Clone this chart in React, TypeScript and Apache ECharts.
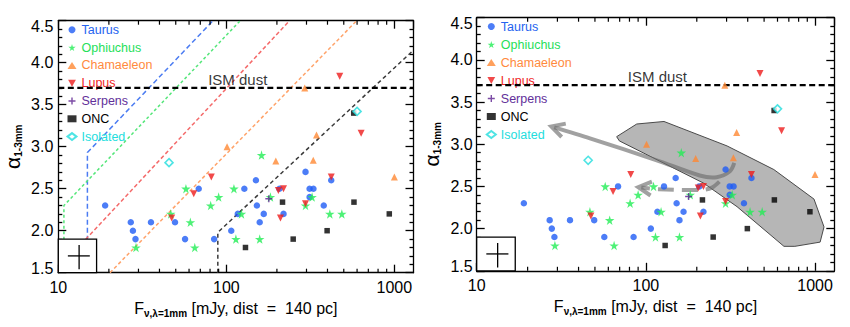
import React, { useEffect, useRef } from "react";
import * as echarts from "echarts";

// ---------------- data ----------------
const taurusFlux = [19, 27, 27.8, 28.8, 35.6, 49.5, 56.8, 68.5, 84.6, 107, 117, 128, 150, 152, 158, 167, 207, 219, 296, 313, 330, 313, 380, 421];
const taurusAlpha = [2.3, 2.1, 2.0, 1.9, 2.1, 2.1, 1.9, 2.5, 1.9, 2.0, 2.2, 2.5, 2.6, 2.3, 2.1, 2.2, 2.5, 2.2, 2.7, 2.5, 2.5, 2.4, 2.3, 2.6];

const ophFlux = [29, 46.7, 57.5, 61.1, 64.9, 80.7, 90, 111, 114, 123, 158, 162, 183, 296, 324, 413, 487];
const ophAlpha = [1.8, 2.2, 2.5, 2.1, 1.8, 2.3, 2.4, 2.5, 1.9, 2.2, 1.9, 2.9, 2.4, 2.3, 2.4, 2.2, 2.2];

const chaFlux = [101, 197, 293, 329, 344, 1000];
const chaAlpha = [3.0, 2.83, 3.7, 2.84, 3.14, 2.64];

const lupFlux = [47.3, 64, 81.4, 204, 219, 210, 296, 421, 473, 634];
const lupAlpha = [2.15, 2.44, 2.64, 2.48, 2.5, 2.15, 2.32, 2.64, 3.84, 3.16];

const serFlux = [179];
const serAlpha = [2.38];

const oncFlux = [130, 216, 250, 398, 573, 575, 933];
const oncAlpha = [1.8, 2.34, 1.9, 2.0, 3.4, 2.34, 2.2];

const isoFlux = [45.6, 600];
const isoAlpha = [2.81, 3.42];

// axis ranges and ticks
const X_MIN = 10;
const X_MAX = 1300;
const Y_MIN = 1.5;
const Y_MAX = 4.5;
const Y_INTERVAL = 0.5;
const xMinorTicks = [20, 30, 40, 50, 60, 70, 80, 90, 200, 300, 400, 500, 600, 700, 800, 900];

// ISM dust level
const ismAlpha = 3.7;
const ismLabelFlux = 117;
const ismLabelAlpha = 3.8;

// left panel model lines
const blueLineFlux = [14.9, 14.9, 83.3];
const blueLineAlpha = [1.5, 2.93, 4.5];
const greenLineFlux = [10.8, 10.8, 121];
const greenLineAlpha = [1.5, 2.3, 4.5];
const redLineFlux = [9.5, 238];
const redLineAlpha = [1.5, 4.5];
const orangeLineFlux = [20.3, 597];
const orangeLineAlpha = [1.5, 4.5];
const blackLineFlux = [89, 89, 1300];
const blackLineAlpha = [1.5, 1.98, 4.15];

// error-bar box
const boxFlux = [10, 16.9];
const boxAlpha = [1.5, 1.9];
const crossFlux = [11.4, 13.3, 15.4];
const crossAlpha = [1.54, 1.7, 1.83];

// right panel region and arrows
const polyFlux = [67.2, 88.3, 128, 302, 571, 986, 1130, 1072, 760, 655, 346, 219, 69.7];
const polyAlpha = [3.09, 3.24, 3.27, 2.98, 2.7, 2.35, 2.02, 1.84, 1.79, 1.79, 2.26, 2.54, 3.04];
const arrow1Flux = [333, 314, 262, 208, 116, 46.7, 27.6];
const arrow1Alpha = [2.78, 2.68, 2.61, 2.63, 2.81, 3.07, 3.21];
const arrow2Flux = [272, 246, 214, 119, 90.2];
const arrow2Alpha = [2.557, 2.486, 2.458, 2.466, 2.49];

// ---------------- styling ----------------
const FONT = "'Liberation Sans', Arial, Helvetica, sans-serif";
const AXIS_COLOR = "#000";
const ARROW_COLOR = "rgba(110,110,110,0.65)";

const STAR = "path://M50,0 L61,35 L98,35 L68,57 L79,91 L50,70 L21,91 L32,57 L2,35 L39,35 Z";
const DOWN_TRI = "path://M0,0 L10,0 L5,9 Z";
const PLUS = "path://M4,0 L6,0 L6,4 L10,4 L10,6 L6,6 L6,10 L4,10 L4,6 L0,6 L0,4 L4,4 Z";

const zip = (a: number[], b: number[]) => a.map((v, i) => [v, b[i]]);

const groups = [
  { name: "Taurus", flux: taurusFlux, alpha: taurusAlpha, symbol: "circle", size: 6.5, color: "#1f5cf5", text: "#2463f0" },
  { name: "Ophiuchus", flux: ophFlux, alpha: ophAlpha, symbol: STAR, size: 9.5, color: "#22ee55", text: "#25e05a" },
  { name: "Chamaeleon", flux: chaFlux, alpha: chaAlpha, symbol: "triangle", size: 7, color: "#ff8833", text: "#ff8a3d" },
  { name: "Lupus", flux: lupFlux, alpha: lupAlpha, symbol: DOWN_TRI, size: 7, color: "#ee1c1c", text: "#f02525" },
  { name: "Serpens", flux: serFlux, alpha: serAlpha, symbol: PLUS, size: 7, color: "#5b1f8f", text: "#62309a" },
  { name: "ONC", flux: oncFlux, alpha: oncAlpha, symbol: "rect", size: 5.5, color: "#000000", text: "#000000" },
  { name: "Isolated", flux: isoFlux, alpha: isoAlpha, symbol: "diamond", size: 8, color: "#22dddd", text: "#22dddd", hollow: true },
];

const grids = [
  { left: 58.3, top: 20.7, width: 355.2, height: 252 },
  { left: 476.7, top: 17.7, width: 357.6, height: 253.1 },
];

const lineStyle = { color: AXIS_COLOR, width: 1.3 };

function bottomX(gi: number) {
  return {
    type: "log",
    logBase: 10,
    gridIndex: gi,
    min: X_MIN,
    max: X_MAX,
    position: "bottom",
    axisLine: { show: true, lineStyle },
    axisTick: { show: true, inside: true, length: 8, lineStyle },
    minorTick: { show: false },
    splitLine: { show: false },
    axisLabel: {
      formatter: (v: number) => String(Math.round(v)),
      fontFamily: FONT,
      fontSize: 16,
      color: "#000",
      margin: 7,
      showMaxLabel: false,
    },
    name: "{a|F}{s|ν,λ=1mm}{a| [mJy, dist  =  140 pc]}",
    nameLocation: "middle",
    nameGap: 24,
    nameTextStyle: {
      rich: {
        a: { fontSize: 16, fontFamily: FONT, color: "#000", lineHeight: 20 },
        s: { fontSize: 10, fontFamily: FONT, fontWeight: "bold", color: "#000", lineHeight: 10, verticalAlign: "bottom" },
      },
    },
  };
}

function topX(gi: number) {
  return {
    type: "log",
    logBase: 10,
    gridIndex: gi,
    min: X_MIN,
    max: X_MAX,
    position: "top",
    axisLine: { show: true, lineStyle },
    axisTick: { show: true, inside: true, length: 8, lineStyle },
    axisLabel: { show: false },
    splitLine: { show: false },
  };
}

function leftY(gi: number, margin: number, gap: number) {
  const base = { fontSize: 16, fontFamily: FONT, color: "#000" };
  return {
    type: "value",
    gridIndex: gi,
    min: Y_MIN,
    max: Y_MAX,
    interval: Y_INTERVAL,
    position: "left",
    axisLine: { show: true, lineStyle },
    axisTick: { show: true, inside: true, length: 8, lineStyle },
    minorTick: { show: true, splitNumber: 5, length: 4, lineStyle },
    splitLine: { show: false },
    axisLabel: {
      margin,
      formatter: (v: number) =>
        Math.abs(v - Y_MAX) < 1e-6 ? `{t|${v.toFixed(1)}}` : Math.abs(v - Y_MIN) < 1e-6 ? `{b|${v.toFixed(1)}}` : `{n|${v.toFixed(1)}}`,
      rich: {
        n: base,
        t: { ...base, padding: [12, 0, 0, 0] },
        b: { ...base, padding: [0, 0, 9, 0] },
      },
    },
    name: "{a|α}{s|1-3mm}",
    nameLocation: "middle",
    nameRotate: 90,
    nameGap: gap,
    nameTextStyle: {
      rich: {
        a: { fontSize: 21, fontFamily: FONT, color: "#000", lineHeight: 22 },
        s: { fontSize: 10, fontFamily: FONT, fontWeight: "bold", color: "#000", lineHeight: 11, verticalAlign: "bottom" },
      },
    },
  };
}

function rightY(gi: number) {
  return {
    type: "value",
    gridIndex: gi,
    min: Y_MIN,
    max: Y_MAX,
    interval: Y_INTERVAL,
    position: "right",
    axisLine: { show: true, lineStyle },
    axisTick: { show: true, inside: true, length: 8, lineStyle },
    minorTick: { show: true, splitNumber: 5, length: 4, lineStyle },
    splitLine: { show: false },
    axisLabel: { show: false },
  };
}

function minorTickSeries(p: number) {
  return {
    type: "custom",
    name: "xminor" + p,
    xAxisIndex: p * 2,
    yAxisIndex: p * 2,
    silent: true,
    z: 6,
    data: xMinorTicks.map((v) => [v, 2]),
    renderItem: (params: any, api: any) => {
      const x = api.coord([api.value(0), api.value(1)])[0];
      const cs = params.coordSys;
      const st = { stroke: AXIS_COLOR, lineWidth: 1.2 };
      return {
        type: "group",
        children: [
          { type: "line", shape: { x1: x, y1: cs.y + cs.height, x2: x, y2: cs.y + cs.height - 4 }, style: st },
          { type: "line", shape: { x1: x, y1: cs.y, x2: x, y2: cs.y + 4 }, style: st },
        ],
      };
    },
  };
}

function boxSeries(p: number) {
  return {
    type: "custom",
    name: "errbox" + p,
    xAxisIndex: p * 2,
    yAxisIndex: p * 2,
    silent: true,
    z: 5,
    data: [[crossFlux[1], crossAlpha[1]]],
    renderItem: (params: any, api: any) => {
      const tl = api.coord([boxFlux[0], boxAlpha[1]]);
      const br = api.coord([boxFlux[1], boxAlpha[0]]);
      const h1 = api.coord([crossFlux[0], crossAlpha[1]]);
      const h2 = api.coord([crossFlux[2], crossAlpha[1]]);
      const v1 = api.coord([crossFlux[1], crossAlpha[0]]);
      const v2 = api.coord([crossFlux[1], crossAlpha[2]]);
      const st = { stroke: "#000", lineWidth: 1.3 };
      return {
        type: "group",
        children: [
          { type: "rect", shape: { x: tl[0], y: tl[1], width: br[0] - tl[0], height: br[1] - tl[1] }, style: { fill: "#fff", stroke: "#000", lineWidth: 1.3 } },
          { type: "line", shape: { x1: h1[0], y1: h1[1], x2: h2[0], y2: h2[1] }, style: st },
          { type: "line", shape: { x1: v1[0], y1: v1[1], x2: v2[0], y2: v2[1] }, style: st },
        ],
      };
    },
  };
}

function ismSeries(p: number) {
  return [
    {
      type: "line",
      name: "ism" + p,
      xAxisIndex: p * 2,
      yAxisIndex: p * 2,
      silent: true,
      symbol: "none",
      z: 4,
      data: [[X_MIN, ismAlpha], [X_MAX, ismAlpha]],
      lineStyle: { color: "#000", width: 2.2, type: [6, 3.5] },
    },
    {
      type: "scatter",
      name: "ismlabel" + p,
      xAxisIndex: p * 2,
      yAxisIndex: p * 2,
      silent: true,
      symbolSize: 1,
      itemStyle: { color: "rgba(0,0,0,0)" },
      z: 4,
      data: [[ismLabelFlux, ismLabelAlpha]],
      label: { show: true, position: "inside", formatter: "ISM dust", fontFamily: FONT, fontSize: 15, color: "#000" },
    },
  ];
}

function scatterSeries(p: number) {
  return groups.map((g) => ({
    type: "scatter",
    name: g.name,
    xAxisIndex: p * 2,
    yAxisIndex: p * 2,
    symbol: g.symbol,
    symbolSize: g.size,
    z: 10,
    data: zip(g.flux, g.alpha),
    itemStyle: g.hollow ? { color: "#fff", borderColor: g.color, borderWidth: 1.6 } : { color: g.color },
  }));
}

function dashedLine(name: string, fl: number[], al: number[], color: string, dash: number[]) {
  return {
    type: "line",
    name,
    xAxisIndex: 0,
    yAxisIndex: 0,
    silent: true,
    symbol: "none",
    z: 3,
    data: zip(fl, al),
    lineStyle: { color, width: 1.5, type: dash },
  };
}

function arrowRender(fl: number[], al: number[], dashed: boolean) {
  return (params: any, api: any) => {
    const pts = fl.map((f, i) => api.coord([f, al[i]]));
    const n = pts.length;
    const tip = pts[n - 1];
    const prev = pts[n - 2];
    const dx = tip[0] - prev[0];
    const dy = tip[1] - prev[1];
    const len = Math.hypot(dx, dy) || 1;
    const ux = dx / len;
    const uy = dy / len;
    const headLen = 13;
    const headHalf = 7;
    const bx = tip[0] - ux * headLen;
    const by = tip[1] - uy * headLen;
    const l = [bx - uy * headHalf, by + ux * headHalf];
    const r = [bx + uy * headHalf, by - ux * headHalf];
    const shaft = pts.slice(0, n - 1).concat([[tip[0] - ux * 3, tip[1] - uy * 3]]);
    const shaftStyle: any = { stroke: ARROW_COLOR, lineWidth: 4, fill: null };
    if (dashed) shaftStyle.lineDash = [16, 8];
    return {
      type: "group",
      children: [
        { type: "polyline", shape: { points: shaft, smooth: 0.3 }, style: shaftStyle },
        { type: "polyline", shape: { points: [l, tip, r] }, style: { stroke: ARROW_COLOR, lineWidth: 4, fill: null } },
      ],
    };
  };
}

function legend(left: number, top: number, gap: number) {
  return {
    orient: "vertical",
    left,
    top,
    padding: 0,
    itemWidth: 9,
    itemHeight: 7,
    itemGap: gap,
    selectedMode: false,
    textStyle: { fontFamily: FONT, fontSize: 12.5, lineHeight: 12 },
    data: groups.map((g) => ({ name: g.name, textStyle: { color: g.text } })),
  };
}

export default function App() {
  const ref = useRef<HTMLDivElement>(null);
  useEffect(() => {
    if (!ref.current) return;
    const chart = echarts.init(ref.current, null, { renderer: "svg" });
    const option: any = {
      animation: false,
      backgroundColor: "#fff",
      grid: grids,
      legend: [legend(66.5, 23.3, 4.8), legend(485.8, 20, 5)],
      xAxis: [bottomX(0), topX(0), bottomX(1), topX(1)],
      yAxis: [leftY(0, 5, 35), rightY(0), leftY(1, 4, 34), rightY(1)],
      series: [
        // left panel
        dashedLine("blueModel", blueLineFlux, blueLineAlpha, "#4b7cf2", [5, 3]),
        dashedLine("greenModel", greenLineFlux, greenLineAlpha, "#55e67a", [3, 2.5]),
        dashedLine("redModel", redLineFlux, redLineAlpha, "#f46a6a", [4, 2.5]),
        dashedLine("orangeModel", orangeLineFlux, orangeLineAlpha, "#ffa36a", [3.5, 2.5]),
        dashedLine("blackModel", blackLineFlux, blackLineAlpha, "#3a3a3a", [4, 3]),
        ...ismSeries(0),
        boxSeries(0),
        minorTickSeries(0),
        ...scatterSeries(0),
        // right panel
        {
          type: "custom",
          name: "region",
          xAxisIndex: 2,
          yAxisIndex: 2,
          silent: true,
          z: 2,
          data: [[polyFlux[0], polyAlpha[0]]],
          renderItem: (params: any, api: any) => ({
            type: "polygon",
            shape: { points: polyFlux.map((f, i) => api.coord([f, polyAlpha[i]])) },
            style: { fill: "#b6b6b6", stroke: "#4a4a4a", lineWidth: 1 },
          }),
        },
        {
          type: "custom",
          name: "arrow1",
          xAxisIndex: 2,
          yAxisIndex: 2,
          silent: true,
          z: 8,
          data: [[arrow1Flux[0], arrow1Alpha[0]]],
          renderItem: arrowRender(arrow1Flux, arrow1Alpha, false),
        },
        {
          type: "custom",
          name: "arrow2",
          xAxisIndex: 2,
          yAxisIndex: 2,
          silent: true,
          z: 8,
          data: [[arrow2Flux[0], arrow2Alpha[0]]],
          renderItem: arrowRender(arrow2Flux, arrow2Alpha, true),
        },
        ...ismSeries(1),
        boxSeries(1),
        minorTickSeries(1),
        ...scatterSeries(1),
      ],
    };
    chart.setOption(option);
    return () => chart.dispose();
  }, []);
  return <div ref={ref} style={{ position: "fixed", left: 0, top: 0, width: 850, height: 327 }} />;
}
